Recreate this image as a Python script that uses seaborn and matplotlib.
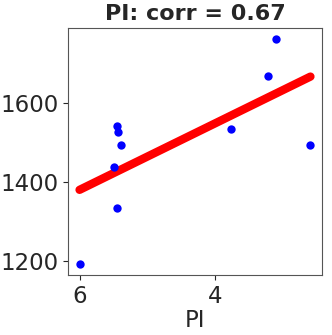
import numpy as np
import pandas as pd
import matplotlib
matplotlib.use("Agg")
import matplotlib.pyplot as plt
import seaborn as sns

# values
pi_values = [6.00, 5.49, 5.45, 5.43, 5.39, 5.44, 3.77, 3.22, 3.10, 2.59]
target_values = [1194, 1439, 1543, 1527, 1495, 1336, 1534, 1667, 1761, 1495]
x_ticks = [6, 4]
y_ticks = [1200, 1400, 1600]

df = pd.DataFrame({"PI": pi_values, "value": target_values})
corr = abs(np.corrcoef(df["PI"], df["value"])[0, 1])

sns.set_style("ticks")
plt.rcParams["font.family"] = ["DejaVu Sans"]

fig = plt.figure(figsize=(3.32, 3.35), dpi=100)
ax = fig.add_axes([68 / 332, 1 - 275 / 335, 254 / 332, 247 / 335])

sns.regplot(
    data=df, x="PI", y="value", ax=ax, ci=None,
    scatter_kws={"color": "blue", "s": 36, "zorder": 3, "alpha": 1, "linewidths": 0},
    line_kws={"color": "red", "linewidth": 6, "solid_capstyle": "round"},
)

ax.invert_xaxis()
ax.set_xticks(x_ticks)
ax.set_yticks(y_ticks)
ax.tick_params(labelsize=16.5, colors="#262626")
for s in ax.spines.values():
    s.set_color("#555555")
ax.set_xlabel("PI", fontsize=16.5, color="#262626", labelpad=1)
ax.set_ylabel("")
ax.set_title(f"PI: corr = {corr:.2f}", fontsize=16, fontweight="bold", color="#262626")

fig.savefig("out.png", dpi=100)
